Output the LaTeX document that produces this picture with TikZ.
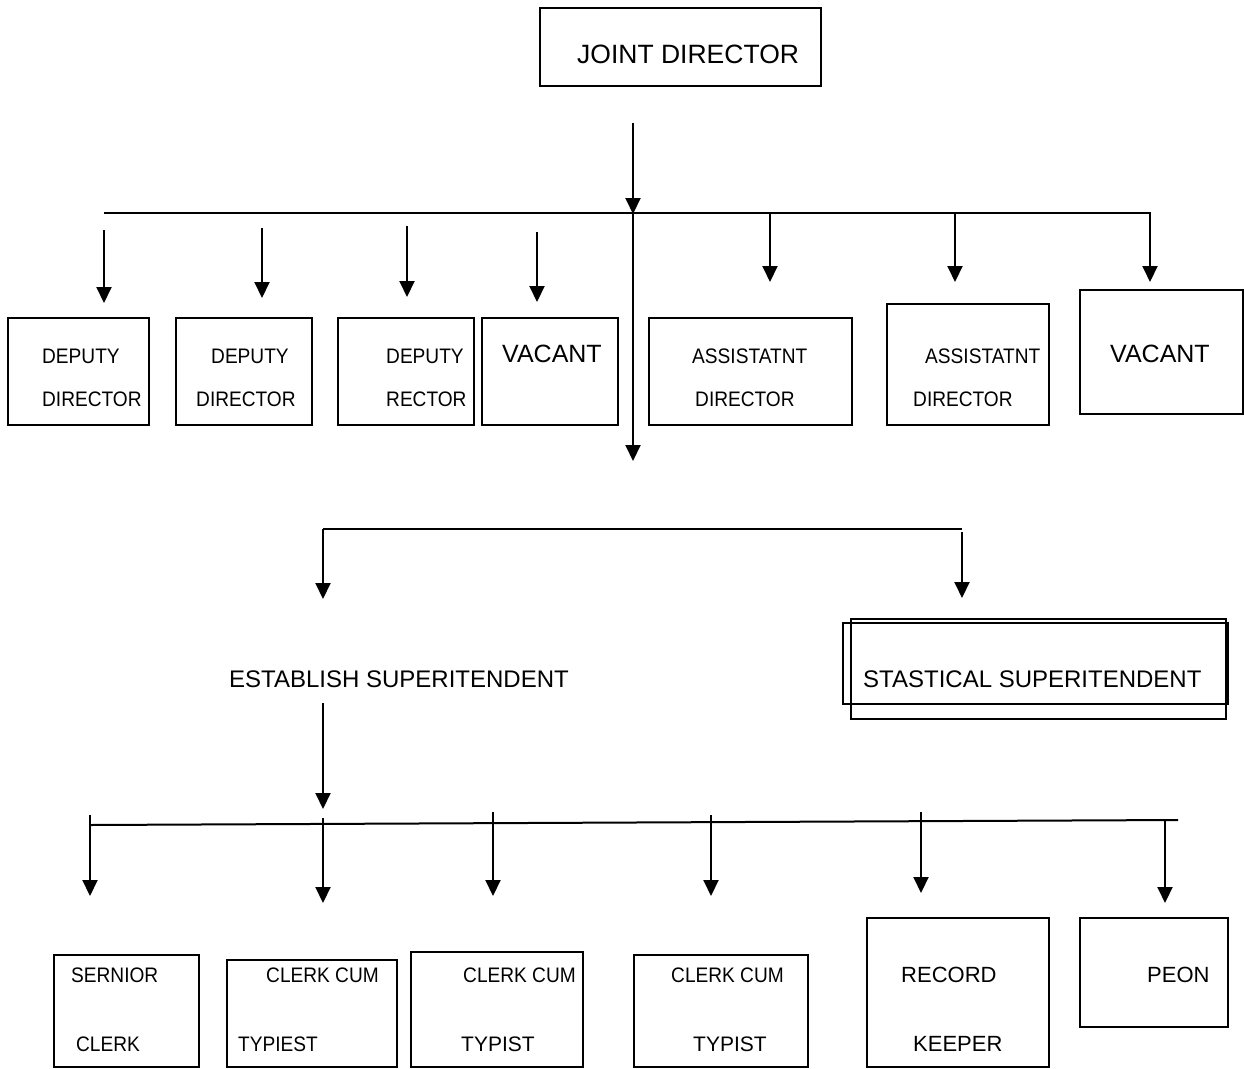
\documentclass[tikz,border=0pt]{standalone}
\usepackage{fontspec}
\setmainfont{Liberation Sans}
\usetikzlibrary{arrows.meta,fit}
\newcommand\nrw[1]{\scalebox{0.91}[1]{#1}}
\begin{document}
\begin{tikzpicture}[x=1pt,y=-1pt,
  box/.style={draw,line width=1.8pt,rectangle,inner sep=0pt},
  arr/.style={line width=2pt,-{Triangle[length=16pt,width=15pt]}},
  ln/.style={line width=2pt},
  big/.style={anchor=base west,inner sep=0pt,font=\fontsize{24}{28}\selectfont},
  sml/.style={anchor=base west,inner sep=0pt,font=\fontsize{21}{25}\selectfont},
  mid/.style={anchor=base west,inner sep=0pt,font=\fontsize{22}{26}\selectfont},
]
\useasboundingbox (0,0) rectangle (1244,1068);

% top
\node[box,fit={(540,8) (821,86)}] (jd) {};
\node[big,font=\fontsize{26.5}{30}\selectfont] (tjd) at (577,63.5) {JOINT DIRECTOR};
\coordinate (jdo) at (633,123);
\coordinate (j1) at (633,214);
\coordinate (j2) at (633,461);
\draw[arr] (jdo) -- (j1);
\draw[arr] (j1) -- (j2);
\coordinate (h1l) at (104,213);
\coordinate (h1r) at (1150,213);
\draw[ln] (h1l) -- (h1r);

% level 1 arrows
\foreach \x/\a/\b in {104/230/303, 262/228/298, 407/226/297, 537/232/302, 770/212/282, 955/212/282, 1150/212/282}
  \draw[arr] (\x,\a) -- (\x,\b);

% level 1 boxes
\node[box,fit={(8,318) (149,425)}] (b1) {};
\node[box,fit={(176,318) (312,425)}] (b2) {};
\node[box,fit={(338,318) (474,425)}] (b3) {};
\node[box,fit={(482,318) (618,425)}] (b4) {};
\node[box,fit={(649,318) (852,425)}] (b5) {};
\node[box,fit={(887,304) (1049,425)}] (b6) {};
\node[box,fit={(1080,290) (1243,414)}] (b7) {};

\node[sml] (t1a) at (42,363) {\nrw{DEPUTY}};
\node[sml] (t1b) at (42,406) {\nrw{DIRECTOR}};
\node[sml] (t2a) at (211,363) {\nrw{DEPUTY}};
\node[sml] (t2b) at (196,406) {\nrw{DIRECTOR}};
\node[sml] (t3a) at (386,363) {\nrw{DEPUTY}};
\node[sml] (t3b) at (386,406) {\nrw{RECTOR}};
\node[big,font=\fontsize{25}{29}\selectfont] (t4) at (502,362) {VACANT};
\node[sml] (t5a) at (692,363) {\nrw{ASSISTATNT}};
\node[sml] (t5b) at (695,406) {\nrw{DIRECTOR}};
\node[sml] (t6a) at (925,363) {\nrw{ASSISTATNT}};
\node[sml] (t6b) at (913,406) {\nrw{DIRECTOR}};
\node[big,font=\fontsize{25}{29}\selectfont] (t7) at (1110,362) {VACANT};

% level 2
\coordinate (h2l) at (323,529);
\coordinate (h2r) at (962,529);
\draw[ln] (h2l) -- (h2r);
\coordinate (h2la) at (323,599);
\coordinate (h2ra) at (962,598);
\draw[arr] (h2l) -- (h2la);
\draw[arr] ([yshift=-3pt]h2r) -- (h2ra);

\node[big] (est) at (229,687) {ESTABLISH SUPERITENDENT};
\node[box,fit={(843,623) (1228,704)}] (sta) {};
\node[box,fit={(851,619) (1226,719)}] (stb) {};
\node[big] (tst) at (863,687) {STASTICAL SUPERITENDENT};

\coordinate (e1) at (323,703);
\coordinate (e2) at (323,809);
\draw[arr] (e1) -- (e2);

% level 3
\coordinate (h3l) at (90,825);
\coordinate (h3r) at (1178,820);
\draw[ln] (h3l) -- (h3r);
\foreach \x/\a/\b in {90/815/896, 323/818/903, 493/812/896, 711/815/896, 921/812/893, 1165/820/903}
  \draw[arr] (\x,\a) -- (\x,\b);

\node[box,fit={(54,955) (199,1067)}] (d1) {};
\node[box,fit={(227,960) (397,1067)}] (d2) {};
\node[box,fit={(411,952) (583,1067)}] (d3) {};
\node[box,fit={(634,955) (808,1067)}] (d4) {};
\node[box,fit={(867,918) (1049,1067)}] (d5) {};
\node[box,fit={(1080,918) (1228,1027)}] (d6) {};

\node[sml] (u1a) at (71,982) {\nrw{SERNIOR}};
\node[sml] (u1b) at (76,1051) {\nrw{CLERK}};
\node[sml] (u2a) at (266,982) {\nrw{CLERK CUM}};
\node[sml] (u2b) at (238,1051) {\nrw{TYPIEST}};
\node[sml] (u3a) at (463,982) {\nrw{CLERK CUM}};
\node[sml] (u3b) at (461,1051) {TYPIST};
\node[sml] (u4a) at (671,982) {\nrw{CLERK CUM}};
\node[sml] (u4b) at (693,1051) {TYPIST};
\node[mid] (u5a) at (901,982) {RECORD};
\node[mid] (u5b) at (913,1051) {KEEPER};
\node[mid] (u6a) at (1147,982) {PEON};
\end{tikzpicture}
\end{document}
